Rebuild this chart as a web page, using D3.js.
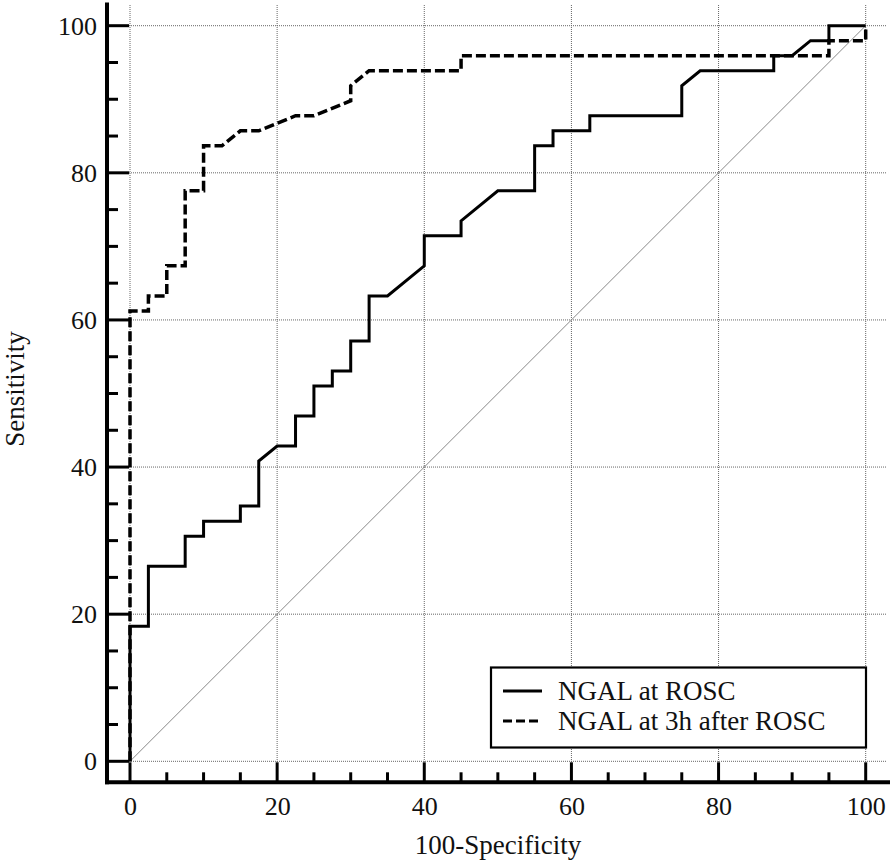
<!DOCTYPE html>
<html>
<head>
<meta charset="utf-8">
<script src="https://cdn.jsdelivr.net/npm/d3@7"></script>
<style>
html,body{margin:0;padding:0;background:#fff;}
svg{display:block;}
</style>
</head>
<body>
<svg id="chart" width="894" height="866"></svg>
<script>
// ROC curve vertices (100-Specificity, Sensitivity)
const seriesNames = ["NGAL at ROSC", "NGAL at 3h after ROSC"];
const rosc_fpr = [0,0,2.5,2.5,7.5,7.5,10,10,15,15,17.5,17.5,20,22.5,22.5,25,25,27.5,27.5,30,30,32.5,32.5,35,40,40,45,45,50,55,55,57.5,57.5,62.5,62.5,75,75,77.5,87.5,87.5,90,92.5,95,95,100];
const rosc_tpr = [0,18.37,18.37,26.53,26.53,30.61,30.61,32.65,32.65,34.69,34.69,40.82,42.86,42.86,46.94,46.94,51.02,51.02,53.06,53.06,57.14,57.14,63.27,63.27,67.35,71.43,71.43,73.47,77.55,77.55,83.67,83.67,85.71,85.71,87.76,87.76,91.84,93.88,93.88,95.92,95.92,97.96,97.96,100,100];
const h3_fpr = [0,0,2.5,2.5,5,5,7.5,7.5,10,10,12.5,15,17.5,22.5,25,30,30,32.5,45,45,95,95,100,100];
const h3_tpr = [0,61.22,61.22,63.27,63.27,67.35,67.35,77.55,77.55,83.67,83.67,85.71,85.71,87.76,87.76,89.8,91.84,93.88,93.88,95.92,95.92,97.96,97.96,100];
const refLine = [0, 100];
const majorTicks = [0, 20, 40, 60, 80, 100];
const minorTicks = d3.range(0, 101, 5).filter(v => v % 20 !== 0);
const xTitle = "100-Specificity";
const yTitle = "Sensitivity";

const FONT = "'Liberation Serif','Times New Roman',Times,Tinos,'Nimbus Roman','Noto Serif','DejaVu Serif',FreeSerif,serif";
const svg = d3.select("#chart");
const x = d3.scaleLinear().domain([0, 100]).range([130, 865.7]);
const y = d3.scaleLinear().domain([0, 100]).range([761.3, 25.7]);

const axisX = 107;      // left axis line position
const axisY = 782.3;    // bottom axis line position
const topY = 2.5, rightX = 890;

// grid lines
const grid = svg.append("g");
majorTicks.forEach(v => {
  grid.append("line").attr("x1", x(v)).attr("x2", x(v)).attr("y1", 5).attr("y2", axisY)
    .attr("stroke", "#666").attr("stroke-width", 1).attr("stroke-dasharray", "1,1");
  grid.append("line").attr("x1", axisX).attr("x2", 887).attr("y1", y(v)).attr("y2", y(v))
    .attr("stroke", "#666").attr("stroke-width", 1).attr("stroke-dasharray", "1,1");
});

// reference diagonal
svg.append("line")
  .attr("x1", x(refLine[0])).attr("y1", y(refLine[0]))
  .attr("x2", x(refLine[1])).attr("y2", y(refLine[1]))
  .attr("stroke", "#888").attr("stroke-width", 1);

// axes
const xAxis = d3.axisBottom(x).tickValues(majorTicks).tickSize(0).tickFormat(d3.format("d"));
const yAxis = d3.axisLeft(y).tickValues(majorTicks).tickSize(0).tickFormat(d3.format("d"));

const gx = svg.append("g").attr("transform", `translate(0,${axisY})`).call(xAxis)
  .attr("font-family", FONT).attr("font-size", 26);
gx.select(".domain").remove();
gx.selectAll("text").attr("y", 33).attr("dy", 0).attr("fill", "#111");

const gy = svg.append("g").attr("transform", `translate(${axisX},0)`).call(yAxis)
  .attr("font-family", FONT).attr("font-size", 26);
gy.select(".domain").remove();
gy.selectAll("text").attr("x", -10).attr("dy", "0.33em").attr("fill", "#111");

// tick marks
const ticks = svg.append("g").attr("stroke", "#000").attr("stroke-width", 3);
majorTicks.forEach(v => {
  ticks.append("line").attr("x1", axisX).attr("x2", x(0) - 1).attr("y1", y(v)).attr("y2", y(v));
  ticks.append("line").attr("x1", x(v)).attr("x2", x(v)).attr("y1", axisY).attr("y2", y(0) + 1);
});
minorTicks.forEach(v => {
  ticks.append("line").attr("x1", axisX).attr("x2", axisX + 11).attr("y1", y(v)).attr("y2", y(v));
  ticks.append("line").attr("x1", x(v)).attr("x2", x(v)).attr("y1", axisY).attr("y2", axisY - 10);
});

// axis lines
svg.append("line").attr("x1", axisX).attr("x2", axisX).attr("y1", topY).attr("y2", axisY + 2)
  .attr("stroke", "#000").attr("stroke-width", 4);
svg.append("line").attr("x1", axisX - 2).attr("x2", rightX).attr("y1", axisY).attr("y2", axisY)
  .attr("stroke", "#000").attr("stroke-width", 4);

// curves
const line = d3.line().x(d => x(d[0])).y(d => y(d[1]));
const roscData = rosc_fpr.map((v, i) => [v, rosc_tpr[i]]);
const h3Data = h3_fpr.map((v, i) => [v, h3_tpr[i]]);

svg.append("path").datum(h3Data).attr("d", line)
  .attr("fill", "none").attr("stroke", "#000").attr("stroke-width", 3.5)
  .attr("stroke-dasharray", "10,4");
svg.append("path").datum(roscData).attr("d", line)
  .attr("fill", "none").attr("stroke", "#000").attr("stroke-width", 3);

// axis titles
svg.append("text").attr("x", 498).attr("y", 854).attr("text-anchor", "middle")
  .attr("font-family", FONT).attr("font-size", 27).attr("fill", "#111").text(xTitle);
svg.append("text").attr("transform", "translate(24,389) rotate(-90)").attr("text-anchor", "middle")
  .attr("font-family", FONT).attr("font-size", 27).attr("fill", "#111").text(yTitle);

// legend
const lg = svg.append("g");
lg.append("rect").attr("x", 491).attr("y", 667.5).attr("width", 375).attr("height", 80)
  .attr("fill", "#fff").attr("stroke", "#000").attr("stroke-width", 2.2);
[{dash: null, yy: 691}, {dash: "9,4", yy: 721}].forEach((s, i) => {
  lg.append("line").attr("x1", 503).attr("x2", 542).attr("y1", s.yy).attr("y2", s.yy)
    .attr("stroke", "#000").attr("stroke-width", 3).attr("stroke-dasharray", s.dash);
  lg.append("text").attr("x", 558).attr("y", s.yy + 9)
    .attr("font-family", FONT).attr("font-size", 27).attr("fill", "#111").text(seriesNames[i]);
});
</script>
</body>
</html>
